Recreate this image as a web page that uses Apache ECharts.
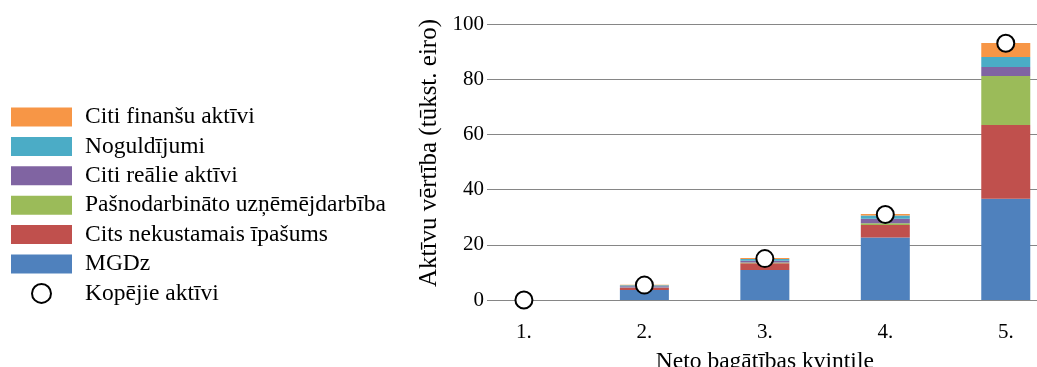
<!DOCTYPE html>
<html><head><meta charset="utf-8">
<script src="https://cdn.jsdelivr.net/npm/echarts@6/dist/echarts.min.js"></script>
<style>html,body{margin:0;padding:0;background:#fff}#c{width:1037px;height:367px}</style>
</head><body><div id="c"></div>
<script>
const categories = ['1.', '2.', '3.', '4.', '5.'];
const mgdz = [0, 3.6, 10.9, 22.6, 36.7];
const citsNekustamais = [0, 0.8, 2.4, 4.6, 26.7];
const pasnodarbinato = [0, 0.1, 0.3, 0.6, 17.8];
const citiRealie = [0, 0.5, 0.6, 1.6, 3.2];
const noguldijumi = [0, 0.3, 0.7, 1.2, 3.6];
const citiFinansu = [0, 0.2, 0.3, 0.6, 5.1];
const kopejie = [0, 5.4, 15.0, 31.0, 93.0];
const yTicks = [0, 20, 40, 60, 80, 100];

const FONT = '"Liberation Serif", "DejaVu Serif", serif';

const barDefs = [
  ['MGDz', mgdz, '#4F81BD'],
  ['Cits nekustamais īpašums', citsNekustamais, '#C0504D'],
  ['Pašnodarbināto uzņēmējdarbība', pasnodarbinato, '#9BBB59'],
  ['Citi reālie aktīvi', citiRealie, '#8064A2'],
  ['Noguldījumi', noguldijumi, '#4BACC6'],
  ['Citi finanšu aktīvi', citiFinansu, '#F79646']
];

const series = barDefs.map(([name, data, color]) => ({
  name, type: 'bar', stack: 'total', barWidth: 49,
  xAxisIndex: 0, yAxisIndex: 0,
  data, itemStyle: { color, opacity: 1 }
}));
series.push({
  name: 'Kopējie aktīvi', type: 'scatter', data: kopejie,
  xAxisIndex: 0, yAxisIndex: 0,
  symbol: 'circle', symbolSize: 17, z: 10,
  itemStyle: { color: '#fff', borderColor: '#000', borderWidth: 2, opacity: 1 }
});

const chart = echarts.init(document.getElementById('c'));
chart.setOption({
  animation: false,
  textStyle: { fontFamily: FONT },
  grid: [
    { left: 463.7, right: -29, top: 24, bottom: 67, outerBoundsMode: 'none', containLabel: false },
    { left: 487, right: 0, top: 24, bottom: 67, outerBoundsMode: 'none', containLabel: false }
  ],
  legend: {
    orient: 'vertical', left: 11, top: 105, padding: 0,
    itemWidth: 61, itemHeight: 19, itemGap: 5.4,
    textStyle: { fontFamily: FONT, fontSize: 23.5, color: '#000', padding: [0, 0, 0, 8] },
    data: [
      { name: 'Citi finanšu aktīvi', icon: 'rect' },
      { name: 'Noguldījumi', icon: 'rect' },
      { name: 'Citi reālie aktīvi', icon: 'rect' },
      { name: 'Pašnodarbināto uzņēmējdarbība', icon: 'rect' },
      { name: 'Cits nekustamais īpašums', icon: 'rect' },
      { name: 'MGDz', icon: 'rect' },
      { name: 'Kopējie aktīvi', icon: 'circle' }
    ]
  },
  xAxis: [
    {
      type: 'category', gridIndex: 0, data: categories,
      name: 'Neto bagātības kvintile', nameLocation: 'middle', nameGap: 50,
      nameTextStyle: { fontFamily: FONT, fontSize: 23.5, color: '#000' },
      axisLine: { show: false }, axisTick: { show: false }, splitLine: { show: false },
      axisLabel: { fontFamily: FONT, fontSize: 21, color: '#000', margin: 22 }
    },
    { type: 'value', gridIndex: 1, show: false, min: 0, max: 1 }
  ],
  yAxis: [
    {
      type: 'value', gridIndex: 0, min: 0, max: 100, interval: 20,
      axisLine: { show: false }, axisTick: { show: false },
      axisLabel: { show: false }, splitLine: { show: false }
    },
    {
      type: 'value', gridIndex: 1, min: 0, max: 100, interval: 20,
      name: 'Aktīvu vērtība (tūkst. eiro)', nameLocation: 'middle', nameGap: 34,
      nameTextStyle: { fontFamily: FONT, fontSize: 25, color: '#000', padding: [0, 0, 0, 18] },
      axisLine: { show: false }, axisTick: { show: false },
      splitLine: { lineStyle: { color: '#868686', width: 1 } },
      axisLabel: { fontFamily: FONT, fontSize: 21, color: '#000', margin: 3 }
    }
  ],
  series
});
</script></body></html>
